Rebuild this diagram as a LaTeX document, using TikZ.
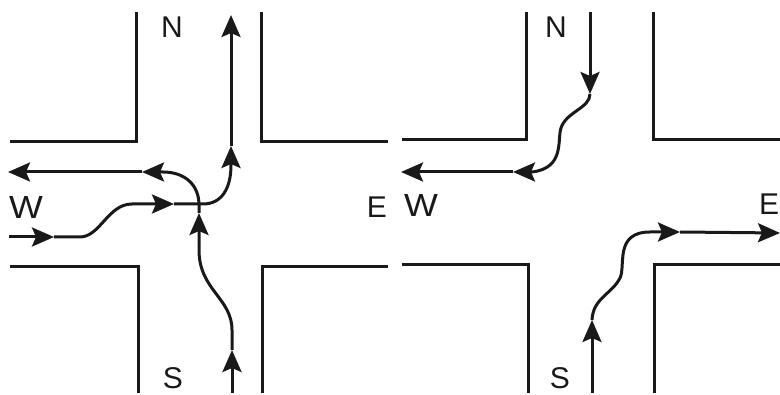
\documentclass[tikz,border=0pt]{standalone}
\usepackage{fontspec}
\setmainfont{Liberation Sans}
\usetikzlibrary{arrows.meta}
\definecolor{ink}{gray}{0.1}
\tikzset{
  kerb/.style={draw=ink,line width=3pt,line join=miter},
  lane/.style={draw=ink,line width=3pt},
  flow/.style={lane,-{Stealth[length=22pt,width=19pt,inset=4pt]}},
  compass/.style={text=ink,font=\fontsize{30}{30}\selectfont,inner sep=0pt},
  widecompass/.style={compass,font=\fontsize{32}{32}\selectfont,xscale=1.12}
}
\begin{document}
\begin{tikzpicture}[x=1pt,y=-1pt]
\useasboundingbox (0,0) rectangle (780,395);
% kerbs left
\draw[kerb] (136,12) -- (136,142) -- (10,142);
\draw[kerb] (261,12) -- (261,142) -- (388,142);
\draw[kerb] (10,267) -- (138,267) -- (138,393);
\draw[kerb] (262,393) -- (262,267) -- (388,267);
% kerbs right
\draw[kerb] (526,12) -- (526,140) -- (402,140);
\draw[kerb] (653,12) -- (653,140) -- (780,140);
\draw[kerb] (402,265) -- (528,265) -- (528,393);
\draw[kerb] (654,393) -- (654,265) -- (780,265);
% labels
\node[compass] (nl) at (172,27) {N};
\node[widecompass] (wl) at (26,207) {W};
\node[compass] (el) at (377,207) {E};
\node[compass] (sl) at (173,378) {S};
\node[compass] (nr) at (556,27) {N};
\node[widecompass] (wr) at (421,205) {W};
\node[compass] (er) at (769,204) {E};
\node[compass] (sr) at (560,378) {S};
% west inflow to north
\coordinate (a0) at (9,237);
\coordinate (a1) at (54,237);
\coordinate (a2) at (174,204);
\coordinate (a3) at (231,146);
\coordinate (a4) at (231,15);
\draw[flow] (a0) -- (a1);
\draw[flow] (a1) -- (80,237) .. controls (100,237) and (108,204) .. (132,204) -- (a2);
\draw[flow] (a2) -- (203,204) .. controls (222,204) and (231,188) .. (231,165) -- (a3);
\draw[flow] (a3) -- (a4);
% south inflow to west
\coordinate (b0) at (232,393);
\coordinate (b1) at (232,350);
\coordinate (b2) at (199,213);
\coordinate (b3) at (142,172);
\coordinate (b4) at (8,172);
\draw[flow] (b0) -- (b1);
\draw[flow] (b1) -- (232,330) .. controls (232,298) and (199,290) .. (199,250) -- (b2);
\draw[flow] (b2) -- (199,205) .. controls (199,185) and (185,172) .. (163,172) -- (b3);
\draw[flow] (b3) -- (b4);
% north to west (right)
\coordinate (c0) at (590,12);
\coordinate (c1) at (590,94);
\coordinate (c2) at (513,172);
\coordinate (c3) at (401,172);
\draw[flow] (c0) -- (c1);
\draw[flow] (c1) .. controls (590,108) and (566,112) .. (561,128) .. controls (557,140) and (565,168) .. (532,172) -- (c2);
\draw[flow] (c2) -- (c3);
% south to east (right)
\coordinate (d0) at (592,393);
\coordinate (d1) at (592,320);
\coordinate (d2) at (680,232);
\coordinate (d3) at (780,233);
\draw[flow] (d0) -- (d1);
\draw[flow] (d1) .. controls (593,298) and (612,294) .. (620,278) .. controls (626,266) and (614,232) .. (650,232) -- (d2);
\draw[flow] (d2) -- (d3);
\end{tikzpicture}
\end{document}
